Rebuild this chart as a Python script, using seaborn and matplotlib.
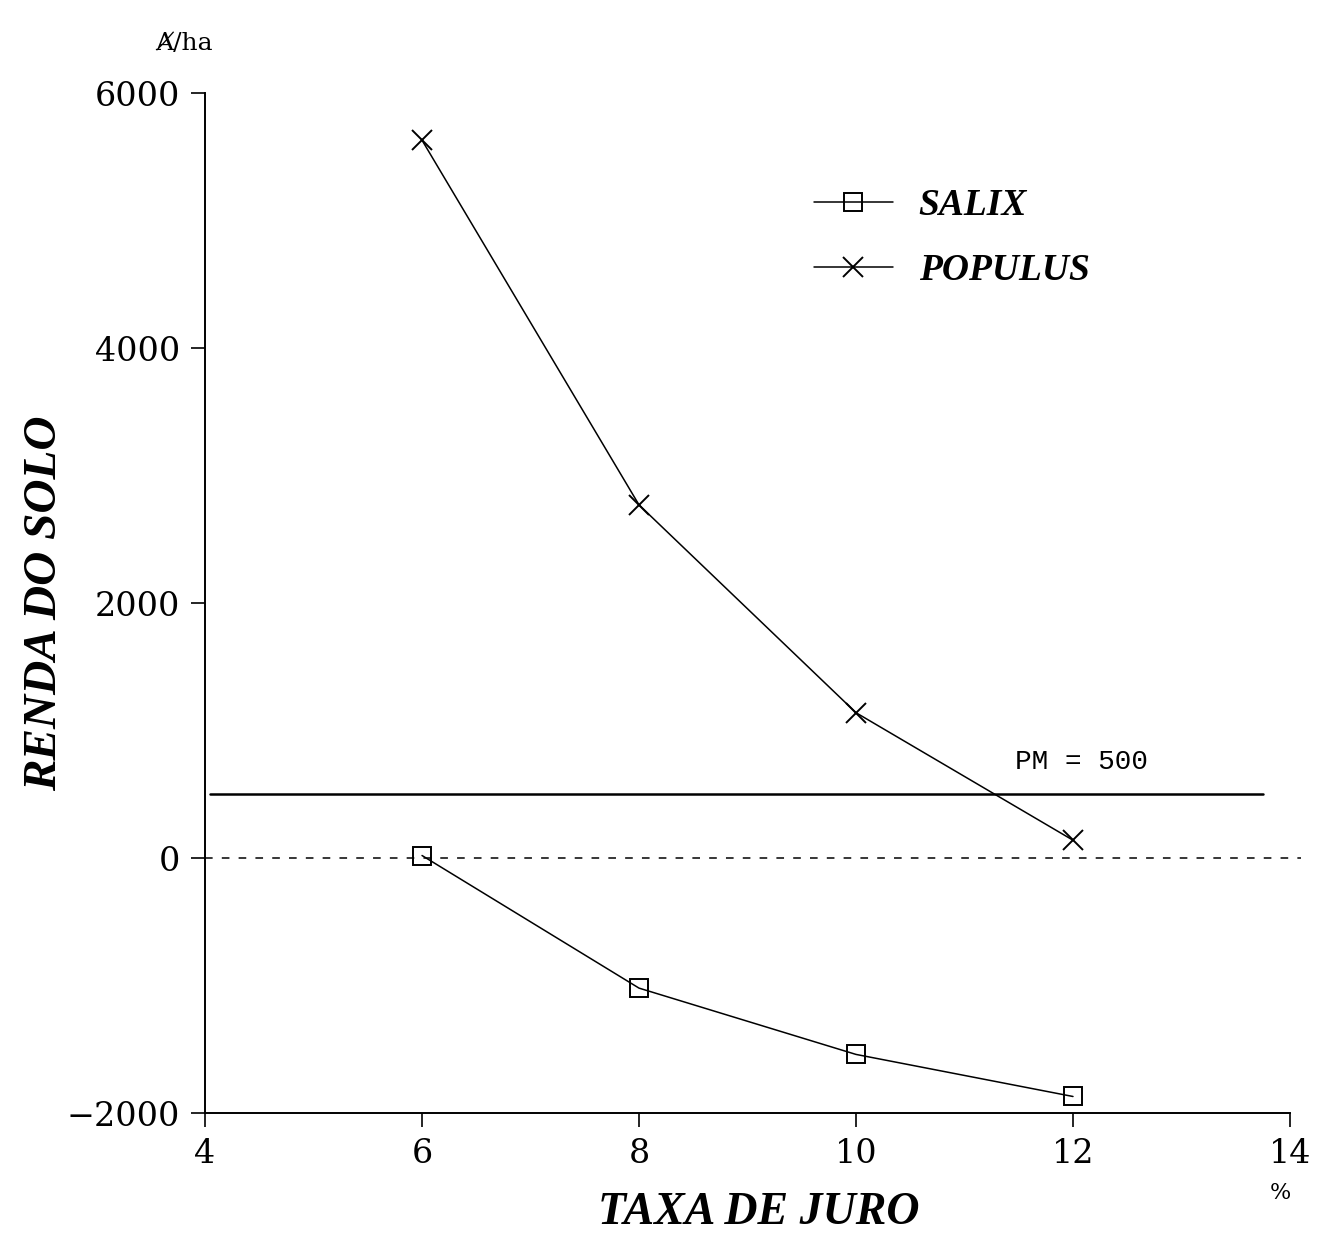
import numpy as np
import pandas as pd
import matplotlib
matplotlib.use("Agg")
import matplotlib.pyplot as plt
import seaborn as sb
from matplotlib.lines import Line2D

taxa = [6, 8, 10, 12]
salix = [20, -1020, -1540, -1870]
populus = [5630, 2770, 1140, 140]
pm = 500

df = pd.DataFrame({
    "taxa": taxa * 2,
    "renda": salix + populus,
    "especie": ["SALIX"] * 4 + ["POPULUS"] * 4,
})

sb.set_style("ticks")
plt.rcParams["font.family"] = ["DejaVu Serif"]
plt.rcParams["text.color"] = "black"
plt.rcParams["xtick.color"] = "black"
plt.rcParams["ytick.color"] = "black"
plt.rcParams["axes.labelcolor"] = "black"
plt.rcParams["axes.edgecolor"] = "black"

fig = plt.figure(figsize=(13.34, 12.34), dpi=100)
ax = fig.add_axes([0.1537, 0.098, 0.8133, 0.8266])

sb.lineplot(data=df[df.especie == "SALIX"], x="taxa", y="renda", ax=ax,
            color="black", lw=1.1, marker="s", markersize=13,
            markerfacecolor="none", markeredgecolor="black", markeredgewidth=1.4,
            clip_on=False)
sb.lineplot(data=df[df.especie == "POPULUS"], x="taxa", y="renda", ax=ax,
            color="black", lw=1.1, marker="x", markersize=14,
            markeredgecolor="black", markeredgewidth=1.4, clip_on=False)

# linha do preco de mercado e linha zero
ax.plot([4.05, 13.75], [pm, pm], color="black", lw=1.8)
ax.plot([4.0, 14.1], [0, 0], color="black", lw=1.1, ls=(0, (5, 6)), clip_on=False)
ax.text(11.47, pm + 150, "PM = 500", family="Liberation Mono", fontsize=20,
        ha="left", va="bottom")

ax.set_xlim(4, 14)
ax.set_ylim(-2000, 6000)
ax.set_xticks([4, 6, 8, 10, 12, 14])
ax.set_yticks([-2000, 0, 2000, 4000, 6000])
ax.tick_params(axis="both", direction="out", length=10, width=1.2,
               labelsize=24, pad=8)
for s in ["top", "right"]:
    ax.spines[s].set_visible(False)
for s in ["left", "bottom"]:
    ax.spines[s].set_linewidth(1.4)

ax.set_xlabel("TAXA DE JURO", family="Liberation Serif", style="italic",
              weight="bold", fontsize=33)
ax.set_ylabel("RENDA DO SOLO", family="Liberation Serif", style="italic",
              weight="bold", fontsize=34)
ax.xaxis.set_label_coords(0.51, -0.098)
ax.yaxis.set_label_coords(-0.147, 0.5)
ax.xaxis.label.set_va("center")
ax.yaxis.label.set_va("center")

fig.text(0.116, 0.965, "Ⱥ/ha", fontsize=18, ha="left", va="center")
fig.text(0.96, 0.033, "%", fontsize=16, ha="center", va="center")

handles = [
    Line2D([], [], color="black", lw=1.1, marker="s", markersize=13,
           markerfacecolor="none", markeredgewidth=1.4),
    Line2D([], [], color="black", lw=1.1, marker="x", markersize=14,
           markeredgewidth=1.4),
]
leg = ax.legend(handles, ["SALIX", "POPULUS"], loc="upper left",
                bbox_to_anchor=(0.53, 0.94), frameon=False, handlelength=2.1,
                handletextpad=0.7, labelspacing=0.8,
                prop={"family": "Liberation Serif", "style": "italic",
                      "weight": "bold", "size": 27})

fig.savefig("out.png", dpi=100)
